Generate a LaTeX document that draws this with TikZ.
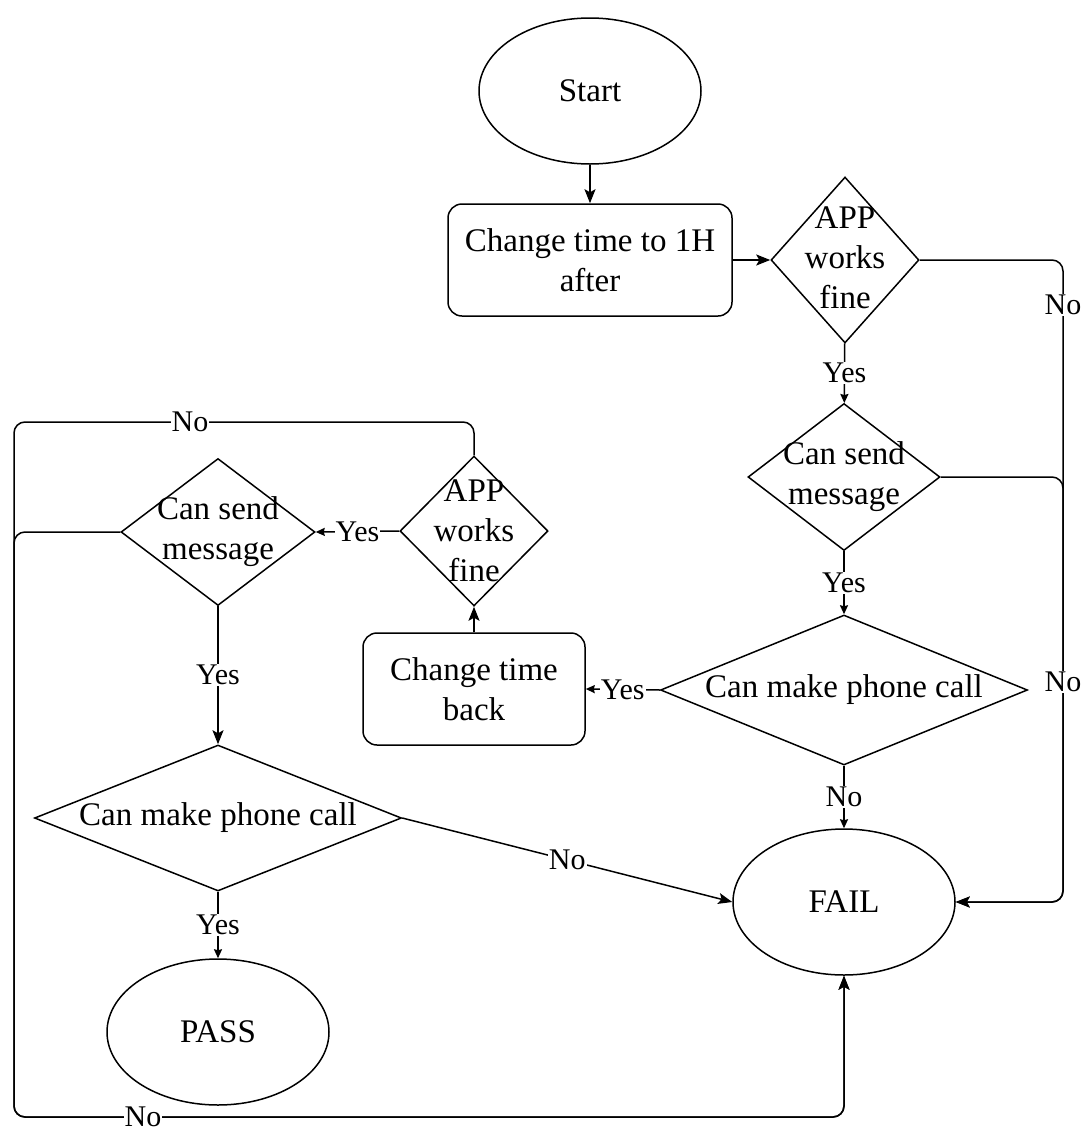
\documentclass[tikz,border=0pt]{standalone}
\usepackage{fontspec}
\setmainfont{Liberation Serif}
\usetikzlibrary{shapes.geometric,arrows.meta}
\begin{document}
\begin{tikzpicture}[x=1pt,y=-1pt,
  line width=1.5pt,
  every node/.style={font=\fontsize{33}{40}\selectfont},
  term/.style={draw, ellipse, minimum width=222pt, minimum height=146pt, inner sep=0pt},
  proc/.style={draw, rounded corners=14pt, inner sep=0pt, align=center},
  decision/.style={draw, diamond, inner sep=0pt},
  txt/.style={align=center, inner sep=0pt},
  lbl/.style={fill=white, inner sep=1pt, font=\fontsize{30}{36}\selectfont},
  arr/.style={-{Stealth[length=14pt,width=11pt,inset=3pt]}},
  sarr/.style={-{Stealth[length=9pt,width=8pt,inset=1pt]}},
  link/.style={rounded corners=11pt},
]
\useasboundingbox (0,0) rectangle (1084,1133);

% shapes
\node[term] (start) at (590,91) {Start};
\node[proc, minimum width=284pt, minimum height=112pt] (chg1) at (590,260) {Change time to 1H\\after};
\node[decision, minimum width=148pt, minimum height=166pt] (app1) at (845,260) {};
\node[txt] (app1t) at (845,258) {APP\\works\\fine};
\node[decision, minimum width=192pt, minimum height=147pt] (send1) at (844,477) {};
\node[txt] (send1t) at (send1) {Can send\\message};
\node[decision, minimum width=367pt, minimum height=150pt] (call1) at (844,690) {};
\node[txt] (call1t) at (call1) {Can make phone call};
\node[proc, minimum width=222pt, minimum height=112pt] (chg2) at (474,689) {Change time\\back};
\node[decision, minimum width=148pt, minimum height=150pt] (app2) at (474,531) {};
\node[txt] (app2t) at (app2) {APP\\works\\fine};
\node[decision, minimum width=194pt, minimum height=147pt] (send2) at (218,532) {};
\node[txt] (send2t) at (send2) {Can send\\message};
\node[decision, minimum width=367pt, minimum height=146pt] (call2) at (218,818) {};
\node[txt] (call2t) at (call2) {Can make phone call};
\node[term] (pass) at (218,1032) {PASS};
\node[term] (fail) at (844,902) {FAIL};

% bend points of the outer return lines
\coordinate (rbot) at (1063,902);
\coordinate (ltop) at (14,422);
\coordinate (lbot) at (14,1117);

% straight connectors
\draw[arr] (start) -- (chg1);
\draw[arr] (chg1.east) -- (app1.west);
\draw[sarr] (app1) -- node[lbl] (y1) {Yes} (send1);
\draw[sarr] (send1) -- node[lbl] (y2) {Yes} (call1);
\draw[sarr] (call1) -- node[lbl] (n1) {No} (fail);
\draw[sarr] (call1.west) -- node[lbl] (y3) {Yes} (chg2.east);
\draw[arr] (chg2) -- (app2);
\draw[sarr] (app2.west) -- node[lbl] (y4) {Yes} (send2.east);
\draw[arr] (send2) -- node[lbl] (y5) {Yes} (call2);
\draw[sarr] (call2) -- node[lbl] (y6) {Yes} (pass);
\draw[arr] (call2.east) -- node[lbl] (n2) {No} (fail.west);

% right-hand return lines
\draw[arr, link] (app1.east) -| (rbot) -- (fail.east);
\node[lbl] (n3) at (1063,305) {No};
\draw[arr, link] (send1.east) -| (rbot) -- (fail.east);
\node[lbl] (n4) at (1063,682) {No};

% left-hand return lines
\draw[arr, link] (app2.north) |- (ltop) -- (lbot) -| (fail.south);
\node[lbl] (n5) at (190,422) {No};
\draw[arr, link] (send2.west) -| (lbot) -| (fail.south);
\node[lbl] (n6) at (143,1117) {No};
\end{tikzpicture}
\end{document}
